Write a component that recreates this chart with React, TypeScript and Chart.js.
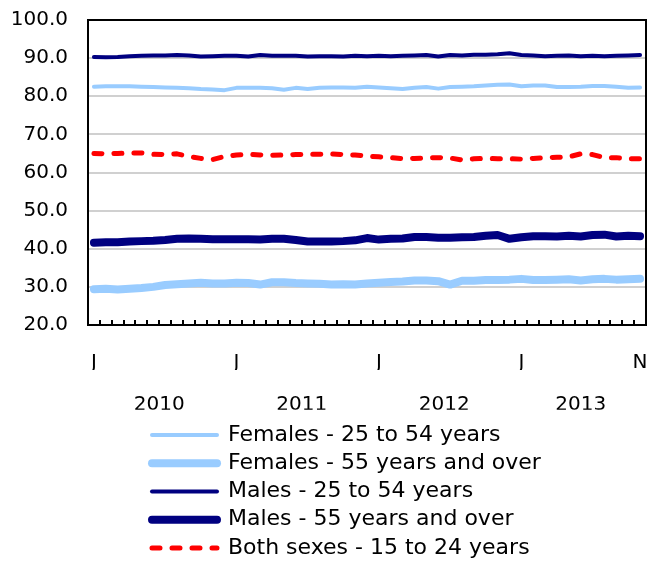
import React, { useEffect, useRef } from "react";
import { Chart, registerables } from "chart.js";

Chart.register(...registerables);

const months = [
  "Jan 2010", "Feb 2010", "Mar 2010", "Apr 2010", "May 2010", "Jun 2010",
  "Jul 2010", "Aug 2010", "Sep 2010", "Oct 2010", "Nov 2010", "Dec 2010",
  "Jan 2011", "Feb 2011", "Mar 2011", "Apr 2011", "May 2011", "Jun 2011",
  "Jul 2011", "Aug 2011", "Sep 2011", "Oct 2011", "Nov 2011", "Dec 2011",
  "Jan 2012", "Feb 2012", "Mar 2012", "Apr 2012", "May 2012", "Jun 2012",
  "Jul 2012", "Aug 2012", "Sep 2012", "Oct 2012", "Nov 2012", "Dec 2012",
  "Jan 2013", "Feb 2013", "Mar 2013", "Apr 2013", "May 2013", "Jun 2013",
  "Jul 2013", "Aug 2013", "Sep 2013", "Oct 2013", "Nov 2013",
];

const years = ["2010", "2011", "2012", "2013"];

const yTicks = [20, 30, 40, 50, 60, 70, 80, 90, 100];

const females25to54 = [
  82.5, 82.6, 82.6, 82.6, 82.5, 82.4, 82.3, 82.2, 82.1, 81.9, 81.8, 81.6,
  82.2, 82.2, 82.2, 82.1, 81.7, 82.2, 81.9, 82.2, 82.3, 82.3, 82.2, 82.5,
  82.3, 82.1, 81.9, 82.2, 82.4, 82.0, 82.4, 82.5, 82.6, 82.8, 83.0, 83.1,
  82.6, 82.8, 82.8, 82.4, 82.4, 82.5, 82.7, 82.7, 82.5, 82.2, 82.3,
];

const females55plus = [
  29.4, 29.5, 29.3, 29.5, 29.7, 30.0, 30.5, 30.7, 30.9, 31.1, 30.9, 30.9,
  31.1, 31.0, 30.6, 31.2, 31.2, 31.0, 30.9, 30.8, 30.6, 30.7, 30.6, 30.9,
  31.1, 31.3, 31.4, 31.7, 31.7, 31.5, 30.6, 31.6, 31.6, 31.8, 31.8, 31.9,
  32.1, 31.8, 31.8, 31.9, 32.0, 31.7, 32.0, 32.1, 31.9, 32.0, 32.1,
];

const males25to54 = [
  90.3, 90.2, 90.3, 90.5, 90.6, 90.7, 90.7, 90.8, 90.7, 90.4, 90.5, 90.6,
  90.6, 90.4, 90.8, 90.6, 90.6, 90.6, 90.4, 90.5, 90.5, 90.4, 90.6, 90.5,
  90.6, 90.5, 90.6, 90.7, 90.8, 90.4, 90.8, 90.7, 90.9, 90.9, 91.0, 91.3,
  90.8, 90.7, 90.5, 90.6, 90.7, 90.5, 90.6, 90.5, 90.6, 90.7, 90.8,
];

const males55plus = [
  41.6, 41.7, 41.7, 41.9, 42.0, 42.1, 42.3, 42.6, 42.7, 42.6, 42.5, 42.5,
  42.5, 42.5, 42.4, 42.6, 42.6, 42.3, 41.9, 41.9, 41.9, 42.0, 42.2, 42.8,
  42.4, 42.6, 42.7, 43.1, 43.1, 42.9, 42.9, 43.0, 43.1, 43.4, 43.6, 42.6,
  43.0, 43.3, 43.3, 43.2, 43.4, 43.2, 43.6, 43.7, 43.2, 43.4, 43.3,
];

const bothSexes15to24 = [
  65.0, 64.9, 65.0, 65.1, 65.1, 64.8, 64.7, 64.9, 64.2, 63.7, 63.4, 64.2,
  64.6, 64.8, 64.6, 64.5, 64.6, 64.7, 64.8, 64.8, 64.9, 64.7, 64.6, 64.3,
  64.1, 63.9, 63.6, 63.7, 63.8, 63.9, 63.8, 63.3, 63.6, 63.7, 63.6, 63.6,
  63.5, 63.7, 63.9, 64.0, 64.1, 64.9, 64.7, 63.9, 63.9, 63.6, 63.6,
];

const LIGHT_BLUE = "#99CCFF";
const NAVY = "#000080";
const RED = "#FF0000";
const GRID = "#D0D0D0";
const CLEAR = "rgba(0,0,0,0)";
const FONT = "'DejaVu Sans', Verdana, sans-serif";

const LEGEND_X = 152;
const LEGEND_ROW1_TOP = 424;
const LEGEND_PAD = 6.25;

const legendPlacer = {
  id: "legendPlacer",
  beforeDraw(chart: any) {
    const lg = chart.legend;
    if (!lg) return;
    lg.left = LEGEND_X - LEGEND_PAD;
    lg.top = LEGEND_ROW1_TOP - LEGEND_PAD;
    lg.bottom = lg.top + lg.height + 20;
    lg.right = chart.width;
  },
};

// small upward tick marks on the bottom axis, at the month boundaries
const drawMonthTicks = (chart: any) => {
  const area = chart.chartArea;
  const ctx = chart.ctx;
  if (!area || !ctx) return;
  const n = months.length;
  const step = (area.right - area.left) / n;
  ctx.save();
  ctx.fillStyle = "#000000";
  for (let i = 1; i < n; i++) {
    const px = Math.round(area.left + i * step);
    ctx.fillRect(px - 1, area.bottom - 5, 2, 5);
  }
  ctx.restore();
};

const monthTickMarks = {
  id: "monthTickMarks",
  afterDatasetsDraw(chart: any) {
    drawMonthTicks(chart);
  },
};

export default function App() {
  const ref = useRef<HTMLCanvasElement | null>(null);

  useEffect(() => {
    if (!ref.current) return;
    const yearCenters = years.map((yr) => {
      const idx = months
        .map((m, i) => (m.endsWith(yr) ? i : -1))
        .filter((i) => i >= 0);
      return (idx[0] + idx[idx.length - 1]) / 2;
    });
    const last = months.length - 1;

    const mk = (label: string, data: number[], color: string, width: number, dash: number[] = []) => ({
      label,
      data,
      borderColor: color,
      backgroundColor: color,
      borderWidth: width,
      borderDash: dash,
      borderCapStyle: "round" as const,
      borderJoinStyle: "round" as const,
      pointRadius: 0,
      pointHoverRadius: 0,
      tension: 0,
      fill: false,
      xAxisID: "x",
      yAxisID: "y",
    });

    const chart = new Chart(ref.current, {
      type: "line",
      data: {
        labels: months,
        datasets: [
          mk("Females - 25 to 54 years", females25to54, LIGHT_BLUE, 4),
          mk("Females - 55 years and over", females55plus, LIGHT_BLUE, 8),
          mk("Males - 25 to 54 years", males25to54, NAVY, 4),
          mk("Males - 55 years and over", males55plus, NAVY, 8),
          mk("Both sexes - 15 to 24 years", bothSexes15to24, RED, 5, [8, 12]),
        ],
      },
      plugins: [legendPlacer, monthTickMarks],
      options: {
        responsive: false,
        animation: false,
        events: [],
        layout: { padding: 0, autoPadding: false },
        font: { family: FONT, size: 20 },
        color: "#000",
        plugins: {
          tooltip: { enabled: false },
          title: { display: false },
          legend: {
            display: true,
            position: "bottom",
            align: "start",
            labels: {
              usePointStyle: true,
              pointStyle: "line",
              pointStyleWidth: 65,
              padding: LEGEND_PAD,
              color: "#000",
              font: { family: FONT, size: 22 },
              generateLabels: (ch: any) => {
                const items = Chart.defaults.plugins.legend.labels.generateLabels(ch);
                return items.map((it: any) => {
                  const ds = ch.data.datasets[it.datasetIndex];
                  return {
                    ...it,
                    pointStyle: "line",
                    lineWidth: ds.borderWidth,
                    lineDash: ds.borderDash || [],
                    lineCap: "round",
                    strokeStyle: ds.borderColor,
                    fillStyle: ds.borderColor,
                  };
                });
              },
            },
          },
        },
        scales: {
          x: {
            type: "category",
            position: "bottom",
            offset: true,
            weight: 0,
            grid: {
              display: true,
              drawOnChartArea: false,
              drawTicks: true,
              tickLength: 26,
              color: CLEAR,
              tickColor: CLEAR,
            },
            border: { display: true, color: "#000", width: 2 },
            ticks: {
              autoSkip: false,
              maxRotation: 0,
              minRotation: 0,
              padding: 0,
              color: "#000",
              font: { family: FONT, size: 20 },
              callback: (_v: any, i: number) =>
                i % 12 === 0 || i === last ? months[i].charAt(0) : "",
            },
            afterFit: (s: any) => {
              s.height = 45;
            },
          },
          xYear: {
            type: "linear",
            position: "bottom",
            weight: 1,
            min: -0.5,
            max: last + 0.5,
            grid: {
              display: true,
              drawOnChartArea: false,
              drawTicks: true,
              tickLength: 23,
              color: CLEAR,
              tickColor: CLEAR,
            },
            border: { display: false },
            ticks: {
              padding: 0,
              color: "#000",
              autoSkip: false,
              maxRotation: 0,
              font: { family: FONT, size: 20 },
              callback: (_v: any, i: number) => years[i],
            },
            afterBuildTicks: (s: any) => {
              s.ticks = yearCenters.map((v) => ({ value: v }));
            },
            afterFit: (s: any) => {
              s.height = 39.75;
            },
          },
          xTop: {
            type: "linear",
            position: "top",
            min: 0,
            max: 1,
            grid: { display: false, drawTicks: false },
            border: { display: true, color: "#000", width: 2 },
            ticks: { display: false, padding: 0 },
            afterFit: (s: any) => {
              s.height = 20;
            },
          },
          y: {
            type: "linear",
            position: "left",
            min: 20,
            max: 100,
            grid: {
              drawTicks: true,
              tickLength: 20,
              tickColor: CLEAR,
              lineWidth: 2,
              color: (ctx: any) =>
                ctx.tick && (ctx.tick.value === 20 || ctx.tick.value === 100)
                  ? CLEAR
                  : GRID,
            },
            border: { display: true, color: "#000", width: 2 },
            ticks: {
              padding: 0,
              color: "#000",
              font: { family: FONT, size: 20 },
              callback: (v: any) => Number(v).toFixed(1),
            },
            afterBuildTicks: (s: any) => {
              s.ticks = yTicks.map((v) => ({ value: v }));
            },
            afterFit: (s: any) => {
              s.width = 88;
            },
          },
          yRight: {
            type: "linear",
            position: "right",
            min: 20,
            max: 100,
            grid: { display: false, drawTicks: false },
            border: { display: true, color: "#000", width: 2 },
            ticks: { display: false, padding: 0 },
            afterFit: (s: any) => {
              s.width = 2;
            },
          },
        },
      } as any,
    });

    return () => chart.destroy();
  }, []);

  return (
    <div style={{ position: "absolute", left: 0, top: 0, width: 648, height: 561 }}>
      <canvas ref={ref} width={648} height={561} style={{ display: "block" }} />
    </div>
  );
}
